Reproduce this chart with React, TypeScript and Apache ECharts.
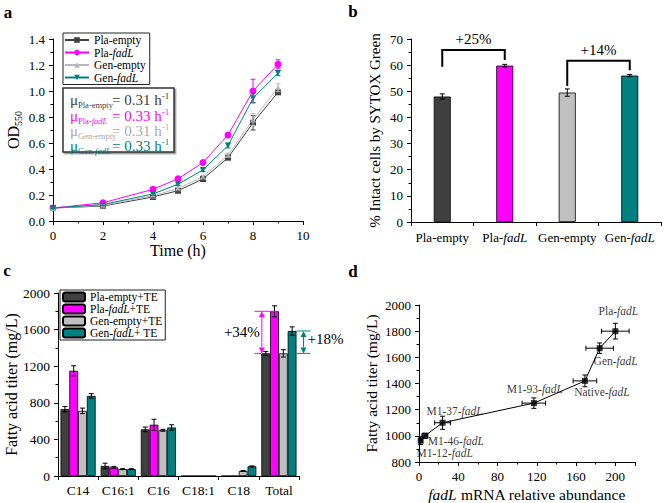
import React, { useEffect, useRef } from 'react';
import * as echarts from 'echarts';

const FONT = 'Liberation Serif, Times New Roman, serif';

// ---------- Panel a: growth curves ----------
const timeH = [0, 2, 4, 5, 6, 7, 8, 9];
const growthNames = ['Pla-empty', 'Pla-fadL', 'Gen-empty', 'Gen-fadL'];
const odPlaEmpty = [0.1, 0.115, 0.185, 0.233, 0.323, 0.487, 0.755, 0.99];
const odPlaFadL = [0.1, 0.14, 0.244, 0.325, 0.45, 0.662, 1.0, 1.205];
const odGenEmpty = [0.1, 0.12, 0.195, 0.25, 0.34, 0.507, 0.78, 1.025];
const odGenFadL = [0.1, 0.127, 0.208, 0.283, 0.393, 0.58, 0.944, 1.138];
const odErrPlaEmpty = [0.004, 0.006, 0.008, 0.008, 0.01, 0.012, 0.055, 0.015];
const odErrPlaFadL = [0.004, 0.006, 0.01, 0.01, 0.01, 0.015, 0.09, 0.035];
const odErrGenEmpty = [0.004, 0.006, 0.008, 0.008, 0.01, 0.012, 0.045, 0.03];
const odErrGenFadL = [0.004, 0.006, 0.008, 0.01, 0.012, 0.018, 0.035, 0.02];
const growthRates = ['0.31', '0.33', '0.31', '0.33'];

// ---------- Panel b: SYTOX ----------
const strainsB = ['Pla-empty', 'Pla-fadL', 'Gen-empty', 'Gen-fadL'];
const intactCells = [48, 59.8, 49.5, 56];
const intactErr = [1.0, 0.5, 1.4, 0.4];
// [fromIndex, toIndex, leftEnd, rightEnd, top]
const brackets = [
  [0, 1, 59.4, 62, 65.8],
  [2, 3, 52, 58, 61.7],
];
const bracketLabels = ['+25%', '+14%'];

// ---------- Panel c: fatty acid titer ----------
const acids = ['C14', 'C16:1', 'C16', 'C18:1', 'C18', 'Total'];
const titerNames = ['Pla-empty+TE', 'Pla-fadL+TE', 'Gen-empty+TE', 'Gen-fadL+ TE'];
const titerPlaEmpty = [730, 110, 510, 0, 0, 1340];
const titerPlaFadL = [1150, 95, 560, 0, 0, 1800];
const titerGenEmpty = [712, 75, 500, 0, 55, 1340];
const titerGenFadL = [875, 75, 530, 0, 105, 1585];
const titerErrPlaEmpty = [30, 30, 25, 0, 0, 20];
const titerErrPlaFadL = [55, 10, 60, 0, 0, 60];
const titerErrGenEmpty = [30, 5, 10, 0, 5, 40];
const titerErrGenFadL = [25, 5, 30, 0, 5, 45];
const increaseLabels = ['+34%', '+18%'];

// ---------- Panel d: titer vs mRNA ----------
const strainsD = ['M1-12-fadL', 'M1-46-fadL', 'M1-37-fadL', 'M1-93-fadL', 'Native-fadL', 'Gen-fadL', 'Pla-fadL'];
const mRNA = [1.7, 6, 24, 117, 169, 184, 200];
const mRNAErr = [1.5, 3, 8, 12, 12, 14, 14];
const titerD = [963, 1000, 1100, 1250, 1420, 1670, 1800];
const titerDErr = [30, 20, 50, 40, 45, 40, 60];

const COLORS = ['#404040', '#ff00ff', '#b8b8b8', '#008080'];
const BAR_COLORS = ['#404040', '#ff00ff', '#c0c0c0', '#008080'];
const DOWN_TRI = 'path://M0,0L10,0L5,8.66Z';
const BAR_GAP = 0.125;

const italicFadL = (s: string) => s.replace('fadL', '{i|fadL}');
const plain = (v: number) => String(v);

function baseAxis(fontSize = 13) {
  return {
    axisLine: { show: true, onZero: false, lineStyle: { color: '#000', width: 1 } },
    axisTick: { show: true, length: 4, lineStyle: { color: '#000', width: 1 } },
    splitLine: { show: false },
    axisLabel: { color: '#000', fontFamily: FONT, fontSize, formatter: plain },
    nameTextStyle: { color: '#000', fontFamily: FONT, fontSize: 15 },
  };
}

function vErrRender(color: string, cap: number, groupIndex?: number) {
  return (params: any, api: any) => {
    const x = api.value(0);
    const y = api.value(1);
    const e = api.value(2);
    if (!e) return null;
    const top = api.coord([x, y + e]);
    const bot = api.coord([x, y - e]);
    let cx = top[0];
    if (groupIndex !== undefined) {
      const band = api.size([1, 0])[0];
      const bw = (band * (1 - BAR_GAP)) / 4;
      cx += (groupIndex - 1.5) * bw;
    }
    const st = { stroke: color, lineWidth: 1 };
    return {
      type: 'group',
      children: [
        { type: 'line', shape: { x1: cx, y1: top[1], x2: cx, y2: bot[1] }, style: st },
        { type: 'line', shape: { x1: cx - cap / 2, y1: top[1], x2: cx + cap / 2, y2: top[1] }, style: st },
        { type: 'line', shape: { x1: cx - cap / 2, y1: bot[1], x2: cx + cap / 2, y2: bot[1] }, style: st },
      ],
    };
  };
}

function arrow(x: number, y1: number, y2: number, color: string) {
  const h = 6;
  const w = 3;
  return [
    { type: 'line', shape: { x1: x, y1: y1 + h, x2: x, y2: y2 - h }, style: { stroke: color, lineWidth: 1 } },
    { type: 'polygon', shape: { points: [[x, y1], [x - w, y1 + h], [x + w, y1 + h]] }, style: { fill: color } },
    { type: 'polygon', shape: { points: [[x, y2], [x - w, y2 - h], [x + w, y2 - h]] }, style: { fill: color } },
  ];
}

export default function App() {
  const ref = useRef<HTMLDivElement>(null);
  useEffect(() => {
    if (!ref.current) return;
    const chart = echarts.init(ref.current, undefined, { renderer: 'svg' });

    const odSeries = [odPlaEmpty, odPlaFadL, odGenEmpty, odGenFadL];
    const odErrs = [odErrPlaEmpty, odErrPlaFadL, odErrGenEmpty, odErrGenFadL];
    const symbols = ['rect', 'circle', 'triangle', DOWN_TRI];
    const titers = [titerPlaEmpty, titerPlaFadL, titerGenEmpty, titerGenFadL];
    const titerErrs = [titerErrPlaEmpty, titerErrPlaFadL, titerErrGenEmpty, titerErrGenFadL];

    const series: any[] = [];

    // Panel a lines
    growthNames.forEach((name, k) => {
      series.push({
        type: 'line',
        name,
        xAxisIndex: 0,
        yAxisIndex: 0,
        data: timeH.map((t, i) => [t, odSeries[k][i]]),
        symbol: symbols[k],
        symbolSize: k === 1 ? 7 : 6,
        itemStyle: { color: COLORS[k] },
        lineStyle: { color: COLORS[k], width: 1 },
        z: 3,
      });
      series.push({
        type: 'custom',
        xAxisIndex: 0,
        yAxisIndex: 0,
        data: timeH.map((t, i) => [t, odSeries[k][i], odErrs[k][i]]),
        encode: { x: 0, y: 1 },
        renderItem: vErrRender(COLORS[k], 5),
        z: 4,
      });
    });

    // Panel b bars
    series.push({
      type: 'bar',
      xAxisIndex: 1,
      yAxisIndex: 1,
      barWidth: 17,
      data: intactCells.map((v, i) => ({ value: v, itemStyle: { color: BAR_COLORS[i] } })),
      itemStyle: { borderColor: '#000', borderWidth: 0.8 },
    });
    series.push({
      type: 'custom',
      xAxisIndex: 1,
      yAxisIndex: 1,
      data: intactCells.map((v, i) => [i, v, intactErr[i]]),
      encode: { x: 0, y: 1 },
      renderItem: vErrRender('#000', 5),
      z: 4,
    });
    series.push({
      type: 'custom',
      xAxisIndex: 1,
      yAxisIndex: 1,
      data: brackets,
      encode: { x: 0, y: 4 },
      renderItem: (params: any, api: any) => {
        const i0 = api.value(0);
        const i1 = api.value(1);
        const pL = api.coord([i0, api.value(2)]);
        const pT0 = api.coord([i0, api.value(4)]);
        const pT1 = api.coord([i1, api.value(4)]);
        const pR = api.coord([i1, api.value(3)]);
        return {
          type: 'group',
          children: [
            { type: 'polyline', shape: { points: [pL, pT0, pT1, pR] }, style: { stroke: '#000', lineWidth: 2, fill: 'none' } },
            {
              type: 'text',
              style: {
                text: bracketLabels[params.dataIndex],
                x: (pT0[0] + pT1[0]) / 2,
                y: pT0[1] - 11,
                align: 'center',
                verticalAlign: 'middle',
                fontFamily: FONT,
                fontSize: 15,
                fill: '#000',
              },
            },
          ],
        };
      },
      z: 5,
    });

    // Panel c bars
    titerNames.forEach((name, k) => {
      series.push({
        type: 'bar',
        name,
        xAxisIndex: 2,
        yAxisIndex: 2,
        data: titers[k],
        barGap: '0%',
        barCategoryGap: BAR_GAP * 100 + '%',
        itemStyle: { color: BAR_COLORS[k], borderColor: '#000', borderWidth: 0.8 },
      });
    });
    titerNames.forEach((_, k) => {
      series.push({
        type: 'custom',
        xAxisIndex: 2,
        yAxisIndex: 2,
        data: acids.map((_a, i) => [i, titers[k][i], titerErrs[k][i]]),
        encode: { x: 0, y: 1 },
        renderItem: vErrRender('#000', 5, k),
        z: 4,
      });
    });
    // Panel c annotations
    series.push({
      type: 'custom',
      xAxisIndex: 2,
      yAxisIndex: 2,
      data: [[5, titerPlaEmpty[5], titerPlaFadL[5], titerGenFadL[5]]],
      encode: { x: 0, y: 2 },
      renderItem: (params: any, api: any) => {
        const cat = api.value(0);
        const base = api.value(1);
        const pla = api.value(2);
        const gen = api.value(3);
        const band = api.size([1, 0])[0];
        const bw = (band * (1 - BAR_GAP)) / 4;
        const cx = api.coord([cat, 0])[0];
        const left = cx - 2 * bw;
        const right = cx + 2 * bw;
        const yBase = api.coord([cat, base])[1];
        const yPla = api.coord([cat, pla])[1];
        const yGen = api.coord([cat, gen])[1];
        const mag = '#ff00ff';
        const teal = '#008080';
        const ax1 = left + 0.5;
        const ax2 = right + 7;
        const midPla = api.coord([cat, (base + pla) / 2])[1];
        const midGen = api.coord([cat, (base + gen) / 2])[1];
        return {
          type: 'group',
          children: [
            { type: 'line', shape: { x1: left - 7, y1: yPla, x2: left + 1.6 * bw, y2: yPla }, style: { stroke: mag, lineWidth: 1 } },
            { type: 'line', shape: { x1: left - 7, y1: yBase, x2: left, y2: yBase }, style: { stroke: mag, lineWidth: 1 } },
            ...arrow(ax1, yPla, yBase, mag),
            { type: 'line', shape: { x1: right, y1: yGen, x2: right + 14, y2: yGen }, style: { stroke: teal, lineWidth: 1 } },
            { type: 'line', shape: { x1: right, y1: yBase, x2: right + 14, y2: yBase }, style: { stroke: teal, lineWidth: 1 } },
            ...arrow(ax2, yGen, yBase, teal),
            {
              type: 'text',
              style: { text: increaseLabels[0], x: ax1 - 2, y: midPla, align: 'right', verticalAlign: 'middle', fontFamily: FONT, fontSize: 15, fill: '#000' },
            },
            {
              type: 'text',
              style: { text: increaseLabels[1], x: ax2 + 4, y: midGen - 3, align: 'left', verticalAlign: 'middle', fontFamily: FONT, fontSize: 15, fill: '#000' },
            },
          ],
        };
      },
      z: 6,
    });

    // Panel d
    const labelOffsets = [[24, 12], [31, 5], [12, -12], [1, -14], [17, 11], [16, 13], [3, -20]];
    series.push({
      type: 'line',
      xAxisIndex: 3,
      yAxisIndex: 3,
      data: mRNA.map((x, i) => [x, titerD[i]]),
      symbol: 'none',
      lineStyle: { color: '#000', width: 1 },
      z: 2,
    });
    series.push({
      type: 'custom',
      xAxisIndex: 3,
      yAxisIndex: 3,
      data: mRNA.map((x, i) => [x, titerD[i], mRNAErr[i], titerDErr[i]]),
      encode: { x: 0, y: 1 },
      renderItem: (params: any, api: any) => {
        const x = api.value(0);
        const y = api.value(1);
        const xe = api.value(2);
        const ye = api.value(3);
        const l = api.coord([x - xe, y]);
        const r = api.coord([x + xe, y]);
        const t = api.coord([x, y + ye]);
        const b = api.coord([x, y - ye]);
        const st = { stroke: '#000', lineWidth: 1 };
        const c = 2.5;
        return {
          type: 'group',
          children: [
            { type: 'line', shape: { x1: l[0], y1: l[1], x2: r[0], y2: r[1] }, style: st },
            { type: 'line', shape: { x1: l[0], y1: l[1] - c, x2: l[0], y2: l[1] + c }, style: st },
            { type: 'line', shape: { x1: r[0], y1: r[1] - c, x2: r[0], y2: r[1] + c }, style: st },
            { type: 'line', shape: { x1: t[0], y1: t[1], x2: b[0], y2: b[1] }, style: st },
            { type: 'line', shape: { x1: t[0] - c, y1: t[1], x2: t[0] + c, y2: t[1] }, style: st },
            { type: 'line', shape: { x1: b[0] - c, y1: b[1], x2: b[0] + c, y2: b[1] }, style: st },
          ],
        };
      },
      z: 3,
    });
    series.push({
      type: 'scatter',
      xAxisIndex: 3,
      yAxisIndex: 3,
      symbol: 'rect',
      symbolSize: 6,
      itemStyle: { color: '#000' },
      data: mRNA.map((x, i) => ({
        value: [x, titerD[i]],
        label: { offset: labelOffsets[i] },
      })),
      label: {
        show: true,
        position: 'inside',
        formatter: (p: any) => italicFadL(strainsD[p.dataIndex]),
        color: '#000',
        fontFamily: FONT,
        fontSize: 11.5,
        lineHeight: 11,
        rich: { i: { fontStyle: 'italic', fontFamily: FONT, fontSize: 11.5, lineHeight: 11, color: '#000' } },
      },
      z: 4,
    });

    const legendText = (fs: number, lh: number) => ({
      color: '#000',
      fontFamily: FONT,
      fontSize: fs,
      lineHeight: lh,
      rich: { i: { fontStyle: 'italic', fontFamily: FONT, fontSize: fs, lineHeight: lh, color: '#000' } },
    });

    const rateLine = (k: number, sub: string, y: number) => {
      const c = k === 2 ? '#aaaaaa' : COLORS[k];
      const subParts = sub.includes('fadL')
        ? `{s|${sub.replace('fadL', '')}}{si|fadL}`
        : `{s|${sub}}`;
      const rich = {
        m: { fontSize: 15, lineHeight: 18, fontFamily: FONT, fill: c },
        s: { fontSize: 8.5, lineHeight: 8, verticalAlign: 'bottom', fontFamily: FONT, fill: c },
        si: { fontSize: 8.5, lineHeight: 8, verticalAlign: 'bottom', fontFamily: FONT, fontStyle: 'italic', fill: c },
        p: { fontSize: 9, lineHeight: 9, verticalAlign: 'top', fontFamily: FONT, fill: c },
      };
      return [
        { type: 'text', x: 70, y, style: { text: `{m|μ}${subParts}`, rich, verticalAlign: 'middle', fill: c, fontFamily: FONT } },
        { type: 'text', x: 112, y, style: { text: `{m|= ${growthRates[k]} h}{p|-1}`, rich, verticalAlign: 'middle', fill: c, fontFamily: FONT } },
      ];
    };

    const letter = (t: string, x: number, y: number) => ({
      type: 'text',
      x,
      y,
      style: { text: t, fontFamily: FONT, fontWeight: 'bold', fontSize: 17, fill: '#000', align: 'center', verticalAlign: 'middle' },
    });

    const option: any = {
      animation: false,
      textStyle: { fontFamily: FONT, color: '#000' },
      grid: [
        { left: 53, top: 39, width: 250, height: 182 },
        { left: 411, top: 39, width: 250, height: 183 },
        { left: 58, top: 293, width: 241, height: 183 },
        { left: 419, top: 305, width: 216, height: 159 },
      ],
      xAxis: [
        {
          ...baseAxis(13),
          gridIndex: 0,
          type: 'value',
          min: 0,
          max: 10,
          interval: 2,
          minorTick: { show: true, splitNumber: 2, length: 2.5, lineStyle: { color: '#000' } },
          name: 'Time (h)',
          nameLocation: 'middle',
          nameGap: 21,
          nameTextStyle: { color: '#000', fontFamily: FONT, fontSize: 16 },
        },
        {
          ...baseAxis(13),
          gridIndex: 1,
          type: 'category',
          data: strainsB,
          axisLabel: {
            color: '#000',
            fontFamily: FONT,
            fontSize: 13,
            margin: 9,
            interval: 0,
            formatter: (v: string) => italicFadL(v),
            rich: { i: { fontStyle: 'italic', fontFamily: FONT, fontSize: 13, color: '#000' } },
          },
        },
        {
          ...baseAxis(13),
          gridIndex: 2,
          type: 'category',
          data: acids,
          axisLabel: { color: '#000', fontFamily: FONT, fontSize: 13.5, margin: 7, interval: 0 },
        },
        {
          ...baseAxis(12),
          gridIndex: 3,
          type: 'value',
          min: 0,
          max: 220,
          interval: 40,
          minorTick: { show: true, splitNumber: 2, length: 2.5, lineStyle: { color: '#000' } },
          axisLabel: { color: '#000', fontFamily: FONT, fontSize: 13, showMaxLabel: false, formatter: plain },
          name: '{i|fadL} mRNA relative abundance',
          nameLocation: 'middle',
          nameGap: 24,
          nameTextStyle: {
            color: '#000',
            fontFamily: FONT,
            fontSize: 15.5,
            rich: { i: { fontStyle: 'italic', fontFamily: FONT, fontSize: 15.5, color: '#000' } },
          },
        },
      ],
      yAxis: [
        {
          ...baseAxis(13),
          gridIndex: 0,
          type: 'value',
          min: 0,
          max: 1.4,
          interval: 0.2,
          axisLabel: { color: '#000', fontFamily: FONT, fontSize: 13, formatter: (v: number) => v.toFixed(1) },
          minorTick: { show: true, splitNumber: 2, length: 2.5, lineStyle: { color: '#000' } },
          name: '{a|OD}{s|550}',
          nameLocation: 'middle',
          nameGap: 30,
          nameTextStyle: {
            color: '#000',
            fontFamily: FONT,
            fontSize: 16,
            rich: {
              a: { fontSize: 16, lineHeight: 20, fontFamily: FONT, color: '#000' },
              s: { fontSize: 10, lineHeight: 10, verticalAlign: 'bottom', fontFamily: FONT, color: '#000' },
            },
          },
        },
        {
          ...baseAxis(13),
          gridIndex: 1,
          type: 'value',
          min: 0,
          max: 70,
          interval: 10,
          minorTick: { show: true, splitNumber: 2, length: 2.5, lineStyle: { color: '#000' } },
          name: '% Intact cells by SYTOX Green',
          nameLocation: 'middle',
          nameGap: 29,
          nameTextStyle: { color: '#000', fontFamily: FONT, fontSize: 15 },
        },
        {
          ...baseAxis(13.5),
          gridIndex: 2,
          type: 'value',
          min: 0,
          max: 2000,
          interval: 400,
          minorTick: { show: true, splitNumber: 2, length: 2.5, lineStyle: { color: '#000' } },
          name: 'Fatty acid titer (mg/L)',
          nameLocation: 'middle',
          nameGap: 38,
          nameTextStyle: { color: '#000', fontFamily: FONT, fontSize: 16 },
        },
        {
          ...baseAxis(13),
          gridIndex: 3,
          type: 'value',
          min: 800,
          max: 2000,
          interval: 200,
          minorTick: { show: true, splitNumber: 2, length: 2.5, lineStyle: { color: '#000' } },
          name: 'Fatty acid titer (mg/L)',
          nameLocation: 'middle',
          nameGap: 40,
          nameTextStyle: { color: '#000', fontFamily: FONT, fontSize: 15.5 },
        },
      ],
      legend: [
        {
          data: growthNames,
          left: 63,
          top: 33,
          orient: 'vertical',
          itemWidth: 24,
          itemHeight: 7,
          itemGap: 0.5,
          padding: [1, 4, 1, 1],
          borderColor: '#222',
          borderWidth: 1,
          selectedMode: false,
          formatter: italicFadL,
          textStyle: legendText(11.5, 11.5),
        },
        {
          data: titerNames,
          left: 60,
          top: 290,
          orient: 'vertical',
          itemWidth: 22,
          itemHeight: 9,
          itemGap: 0,
          padding: [1, 3, 1, 2],
          borderColor: '#222',
          borderWidth: 1,
          selectedMode: false,
          formatter: italicFadL,
          textStyle: legendText(11.5, 11.5),
        },
      ],
      series,
      graphic: [
        letter('a', 8, 12),
        letter('b', 353, 11),
        letter('c', 7, 270),
        letter('d', 353, 271),
        {
          type: 'rect',
          shape: { x: 63, y: 88, width: 111, height: 64 },
          style: { fill: '#fff', stroke: '#333', lineWidth: 1.5, shadowColor: 'rgba(0,0,0,0.4)', shadowOffsetX: 1.5, shadowOffsetY: 1.5, shadowBlur: 1 },
          z: 10,
        },
        ...rateLine(0, 'Pla-empty', 100).map((g) => ({ ...g, z: 11 })),
        ...rateLine(1, 'Pla-fadL', 116).map((g) => ({ ...g, z: 11 })),
        ...rateLine(2, 'Gen-empty', 131).map((g) => ({ ...g, z: 11 })),
        ...rateLine(3, 'Gen-fadL', 146).map((g) => ({ ...g, z: 11 })),
      ],
    };

    chart.setOption(option);
    return () => chart.dispose();
  }, []);

  return <div ref={ref} style={{ position: 'absolute', left: 0, top: 0, width: 664, height: 503, background: '#fff' }} />;
}
